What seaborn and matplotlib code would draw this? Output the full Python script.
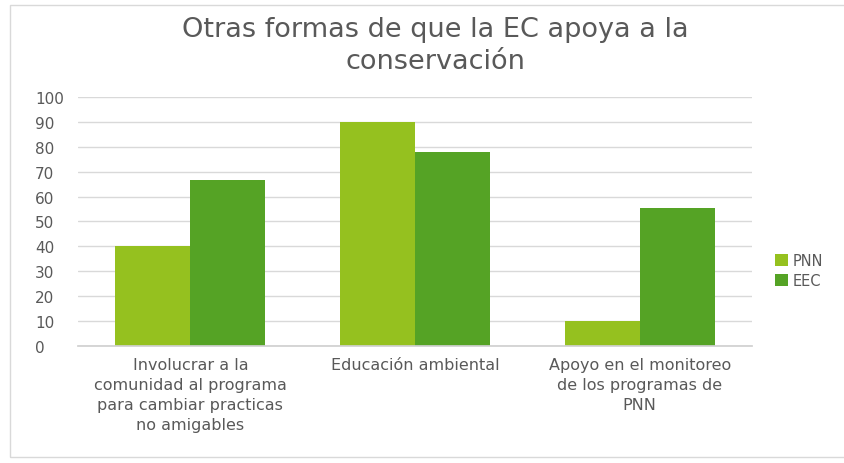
"""Bar chart: other ways the EC supports conservation (PNN vs EEC)."""

import matplotlib.pyplot as plt
import pandas as pd
import seaborn as sns
from matplotlib.patches import Rectangle

CATEGORIES = [
    "Involucrar a la\ncomunidad al programa\npara cambiar practicas\nno amigables",
    "Educación ambiental",
    "Apoyo en el monitoreo\nde los programas de\nPNN",
]
SERIES = ["PNN", "EEC"]
PNN_VALUES = [40, 90, 10]
EEC_VALUES = [66.7, 77.8, 55.6]
Y_TICKS = [0, 10, 20, 30, 40, 50, 60, 70, 80, 90, 100]

COLORS = {"PNN": "#95c11f", "EEC": "#55a325"}
TEXT_GRAY = "#595959"


def main() -> None:
    sns.set_theme(style="white")
    plt.rcParams["font.family"] = ["DejaVu Sans"]

    df = pd.DataFrame({
        "categoria": CATEGORIES * 2,
        "serie": ["PNN"] * 3 + ["EEC"] * 3,
        "valor": PNN_VALUES + EEC_VALUES,
    })

    fig = plt.figure(figsize=(8.45, 4.64), dpi=100)
    ax = fig.add_axes([0.0923, 0.252, 0.7977, 0.537])

    sns.barplot(
        data=df, x="categoria", y="valor", hue="serie", hue_order=SERIES,
        palette=COLORS, width=0.667, gap=0, saturation=1, ax=ax,
        linewidth=0, legend=True,
    )

    ax.set_ylim(0, 100)
    ax.set_yticks(Y_TICKS)
    ax.set_xlim(-0.5, 2.5)
    ax.yaxis.grid(True, color="#d9d9d9", linewidth=1)
    ax.set_axisbelow(True)
    for side in ["top", "right", "left"]:
        ax.spines[side].set_visible(False)
    ax.spines["bottom"].set_color("#d0d0d0")
    ax.set_xlabel("")
    ax.set_ylabel("")
    ax.tick_params(axis="y", length=0, labelsize=11, labelcolor=TEXT_GRAY, pad=31)
    ax.tick_params(axis="x", length=0, labelcolor=TEXT_GRAY, pad=8)
    ax.set_yticklabels([str(t) for t in Y_TICKS], ha="left")
    ax.set_xticks(range(len(CATEGORIES)))
    ax.set_xticklabels(CATEGORIES, fontsize=11.5, linespacing=1.4, va="top")

    handles, labels = ax.get_legend_handles_labels()
    ax.get_legend().remove()
    fig.legend(
        handles, labels, loc="center left", bbox_to_anchor=(0.91, 0.415),
        frameon=False, fontsize=10.5, labelcolor=TEXT_GRAY,
        handlelength=0.9, handleheight=0.9, handletextpad=0.3,
        labelspacing=0.3, borderaxespad=0,
    )

    fig.text(
        0.515, 0.9, "Otras formas de que la EC apoya a la\nconservación",
        ha="center", va="center", fontsize=19.5, color=TEXT_GRAY,
        linespacing=1.3,
    )

    fig.patches.append(Rectangle(
        (10 / 845, 6 / 464), 840 / 845, 452 / 464, transform=fig.transFigure,
        fill=False, edgecolor="#d9d9d9", linewidth=1,
    ))

    fig.savefig("out.png", dpi=100)
    plt.close(fig)


if __name__ == "__main__":
    main()
